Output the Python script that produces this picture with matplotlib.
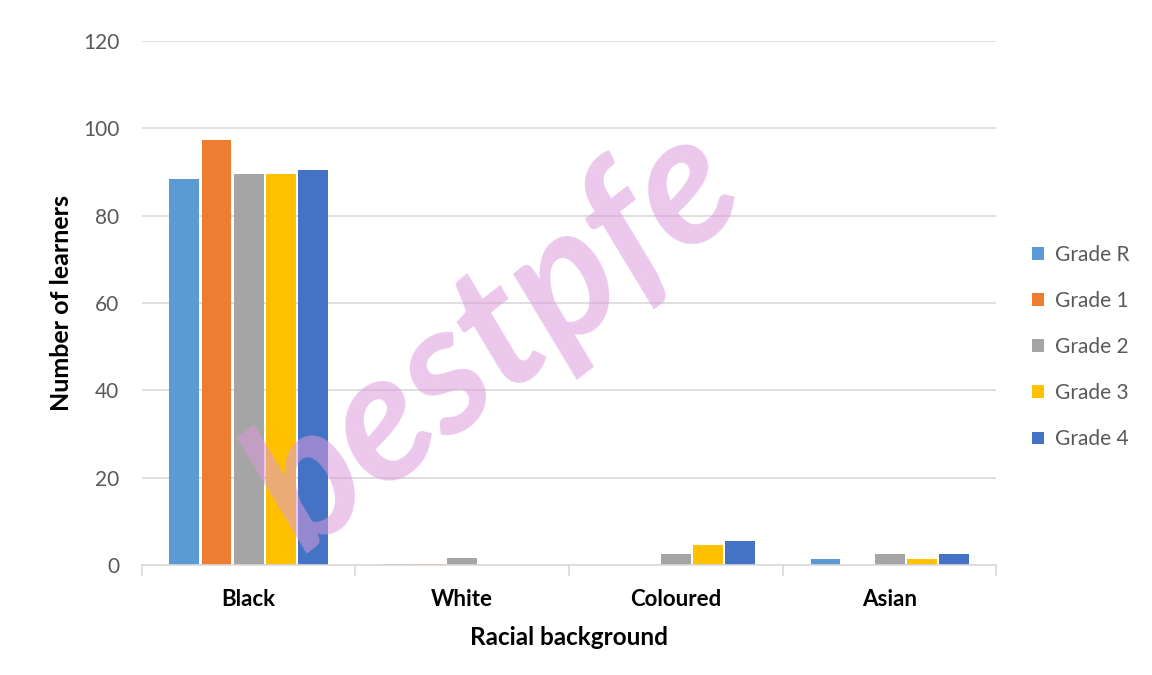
import numpy as np
import matplotlib.pyplot as plt

categories = ['Black', 'White', 'Coloured', 'Asian']
grades = ['Grade R', 'Grade 1', 'Grade 2', 'Grade 3', 'Grade 4']
colors = ['#5b9bd5', '#ed7d31', '#a5a5a5', '#ffc000', '#4472c4']

grade_r = [88.5, 0.2, 0, 1.4]
grade_1 = [97.4, 0.2, 0, 0]
grade_2 = [89.5, 1.5, 2.5, 2.5]
grade_3 = [89.5, 0, 4.5, 1.4]
grade_4 = [90.6, 0, 5.5, 2.5]
series = [grade_r, grade_1, grade_2, grade_3, grade_4]

plt.rcParams['font.family'] = ['Lato', 'DejaVu Sans']

fig = plt.figure(figsize=(11.52, 6.75), dpi=100)
ax = fig.add_axes([0.123, 0.163, 0.742, 0.776])

x = np.arange(len(categories))
slot = 0.15
width = 0.14
for i, (vals, name, c) in enumerate(zip(series, grades, colors)):
    ax.bar(x + (i - 2) * slot, vals, width, color=c, label=name, zorder=2)

ax.set_xlim(-0.5, 3.5)
ax.set_ylim(0, 120)
ax.set_yticks(range(0, 121, 20))
ax.yaxis.grid(True, color='#d9d9d9', linewidth=1.2, zorder=0)
ax.tick_params(axis='y', length=0, labelsize=15, labelcolor='#595959', pad=16)

ax.set_xticks(x)
ax.set_xticklabels(categories, fontsize=16, fontweight='bold', color='black')
ax.tick_params(axis='x', length=0, pad=17)
ax.set_xticks(np.arange(-0.5, 4, 1), minor=True)
ax.tick_params(axis='x', which='minor', length=8, color='#d9d9d9', width=1.2)

for s in ['top', 'right', 'left']:
    ax.spines[s].set_visible(False)
ax.spines['bottom'].set_color('#d9d9d9')
ax.spines['bottom'].set_linewidth(1.2)

ax.set_xlabel('Racial background', fontsize=17.5, fontweight='bold', labelpad=12)
ax.set_ylabel('Number of learners', fontsize=18, fontweight='bold', labelpad=7)

leg = ax.legend(loc='center left', bbox_to_anchor=(1.02, 0.416), frameon=False,
                fontsize=15, handlelength=0.55, handleheight=0.55,
                labelspacing=1.25, handletextpad=0.55)
for t in leg.get_texts():
    t.set_color('#595959')

# faint pink site stamp across the chart
fig.text(0.43, 0.5, 'bestpfe', fontsize=130, fontweight='bold', style='italic',
         color='#dc9bdc', alpha=0.55, rotation=38, ha='center', va='center',
         zorder=10)

fig.savefig('out.png', dpi=100)
